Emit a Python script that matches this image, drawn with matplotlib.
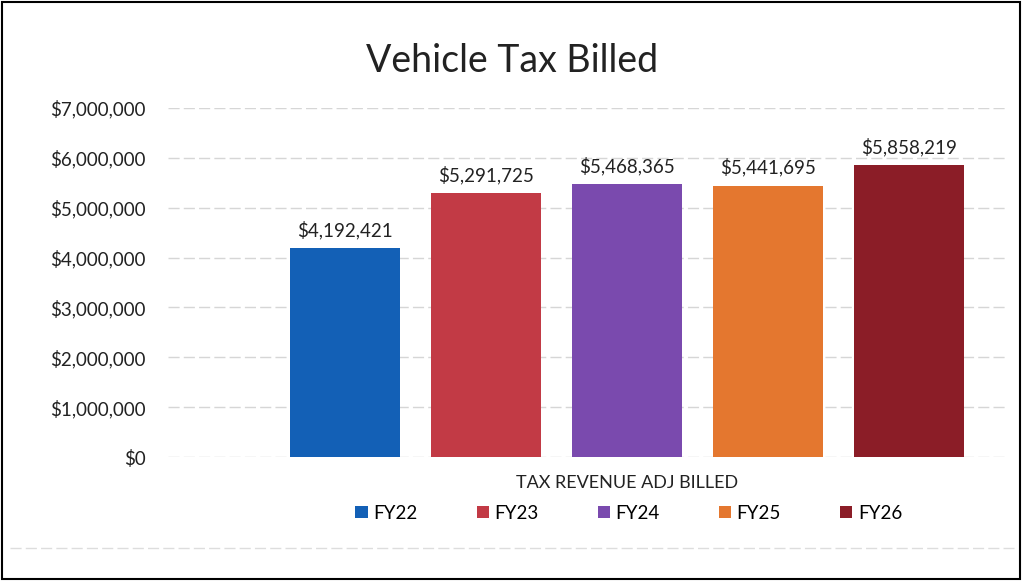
import matplotlib.pyplot as plt
from matplotlib.patches import Rectangle
from matplotlib.ticker import FuncFormatter

# data
years = ["FY22", "FY23", "FY24", "FY25", "FY26"]
billed = [4192421, 5291725, 5468365, 5441695, 5858219]
colors = ["#1360b6", "#c23a45", "#7a4aae", "#e4772f", "#8b1d27"]
category = "TAX REVENUE ADJ BILLED"

plt.rcParams['font.family'] = ['Lato', 'DejaVu Sans']

fig = plt.figure(figsize=(10.24, 5.81), dpi=100)
ax = fig.add_axes([0.164, 0.2134, 0.817, 0.6007])

pos = list(range(len(years)))
bars = ax.bar(pos, billed, width=0.78, color=colors, label=years, zorder=3)

for b, v in zip(bars, billed):
    ax.text(b.get_x() + b.get_width() / 2, v + 180000, "${:,.0f}".format(v),
            ha="center", va="bottom", fontsize=13.5, color="#222222")

ax.set_ylim(0, 7000000)
ax.set_xlim(-1.259, 4.677)
ax.set_yticks(range(0, 7000001, 1000000))
ax.yaxis.set_major_formatter(FuncFormatter(lambda v, p: "${:,.0f}".format(v)))
ax.tick_params(axis="y", length=0, pad=16, labelsize=13.5, labelcolor="#222222")
ax.set_xticks([])
ax.grid(axis="y", color="#d6d6d6", linestyle=(0, (8, 3)), linewidth=1, zorder=0)
for s in ax.spines.values():
    s.set_visible(False)

fig.text(0.5, 0.895, "Vehicle Tax Billed", ha="center", va="center",
         fontsize=27, color="#222222")
fig.text(0.612, 0.168, category, ha="center", va="center",
         fontsize=13, color="#222222")

fig.legend(handles=bars, labels=years, loc="center", bbox_to_anchor=(0.614, 0.117),
           ncol=5, frameon=False, fontsize=13.5, handlelength=0.65, handleheight=0.65,
           handletextpad=0.3, columnspacing=3.15)

# scanned page frame
fig.patches.append(Rectangle((0.002, 0.004), 0.994, 0.992, transform=fig.transFigure,
                             fill=False, edgecolor="black", linewidth=1.5))
fig.add_artist(plt.Line2D([0.01, 0.99], [0.057, 0.057], transform=fig.transFigure,
                          color="#dddddd", linestyle=(0, (8, 3)), linewidth=1))

fig.savefig("out.png", dpi=100)
